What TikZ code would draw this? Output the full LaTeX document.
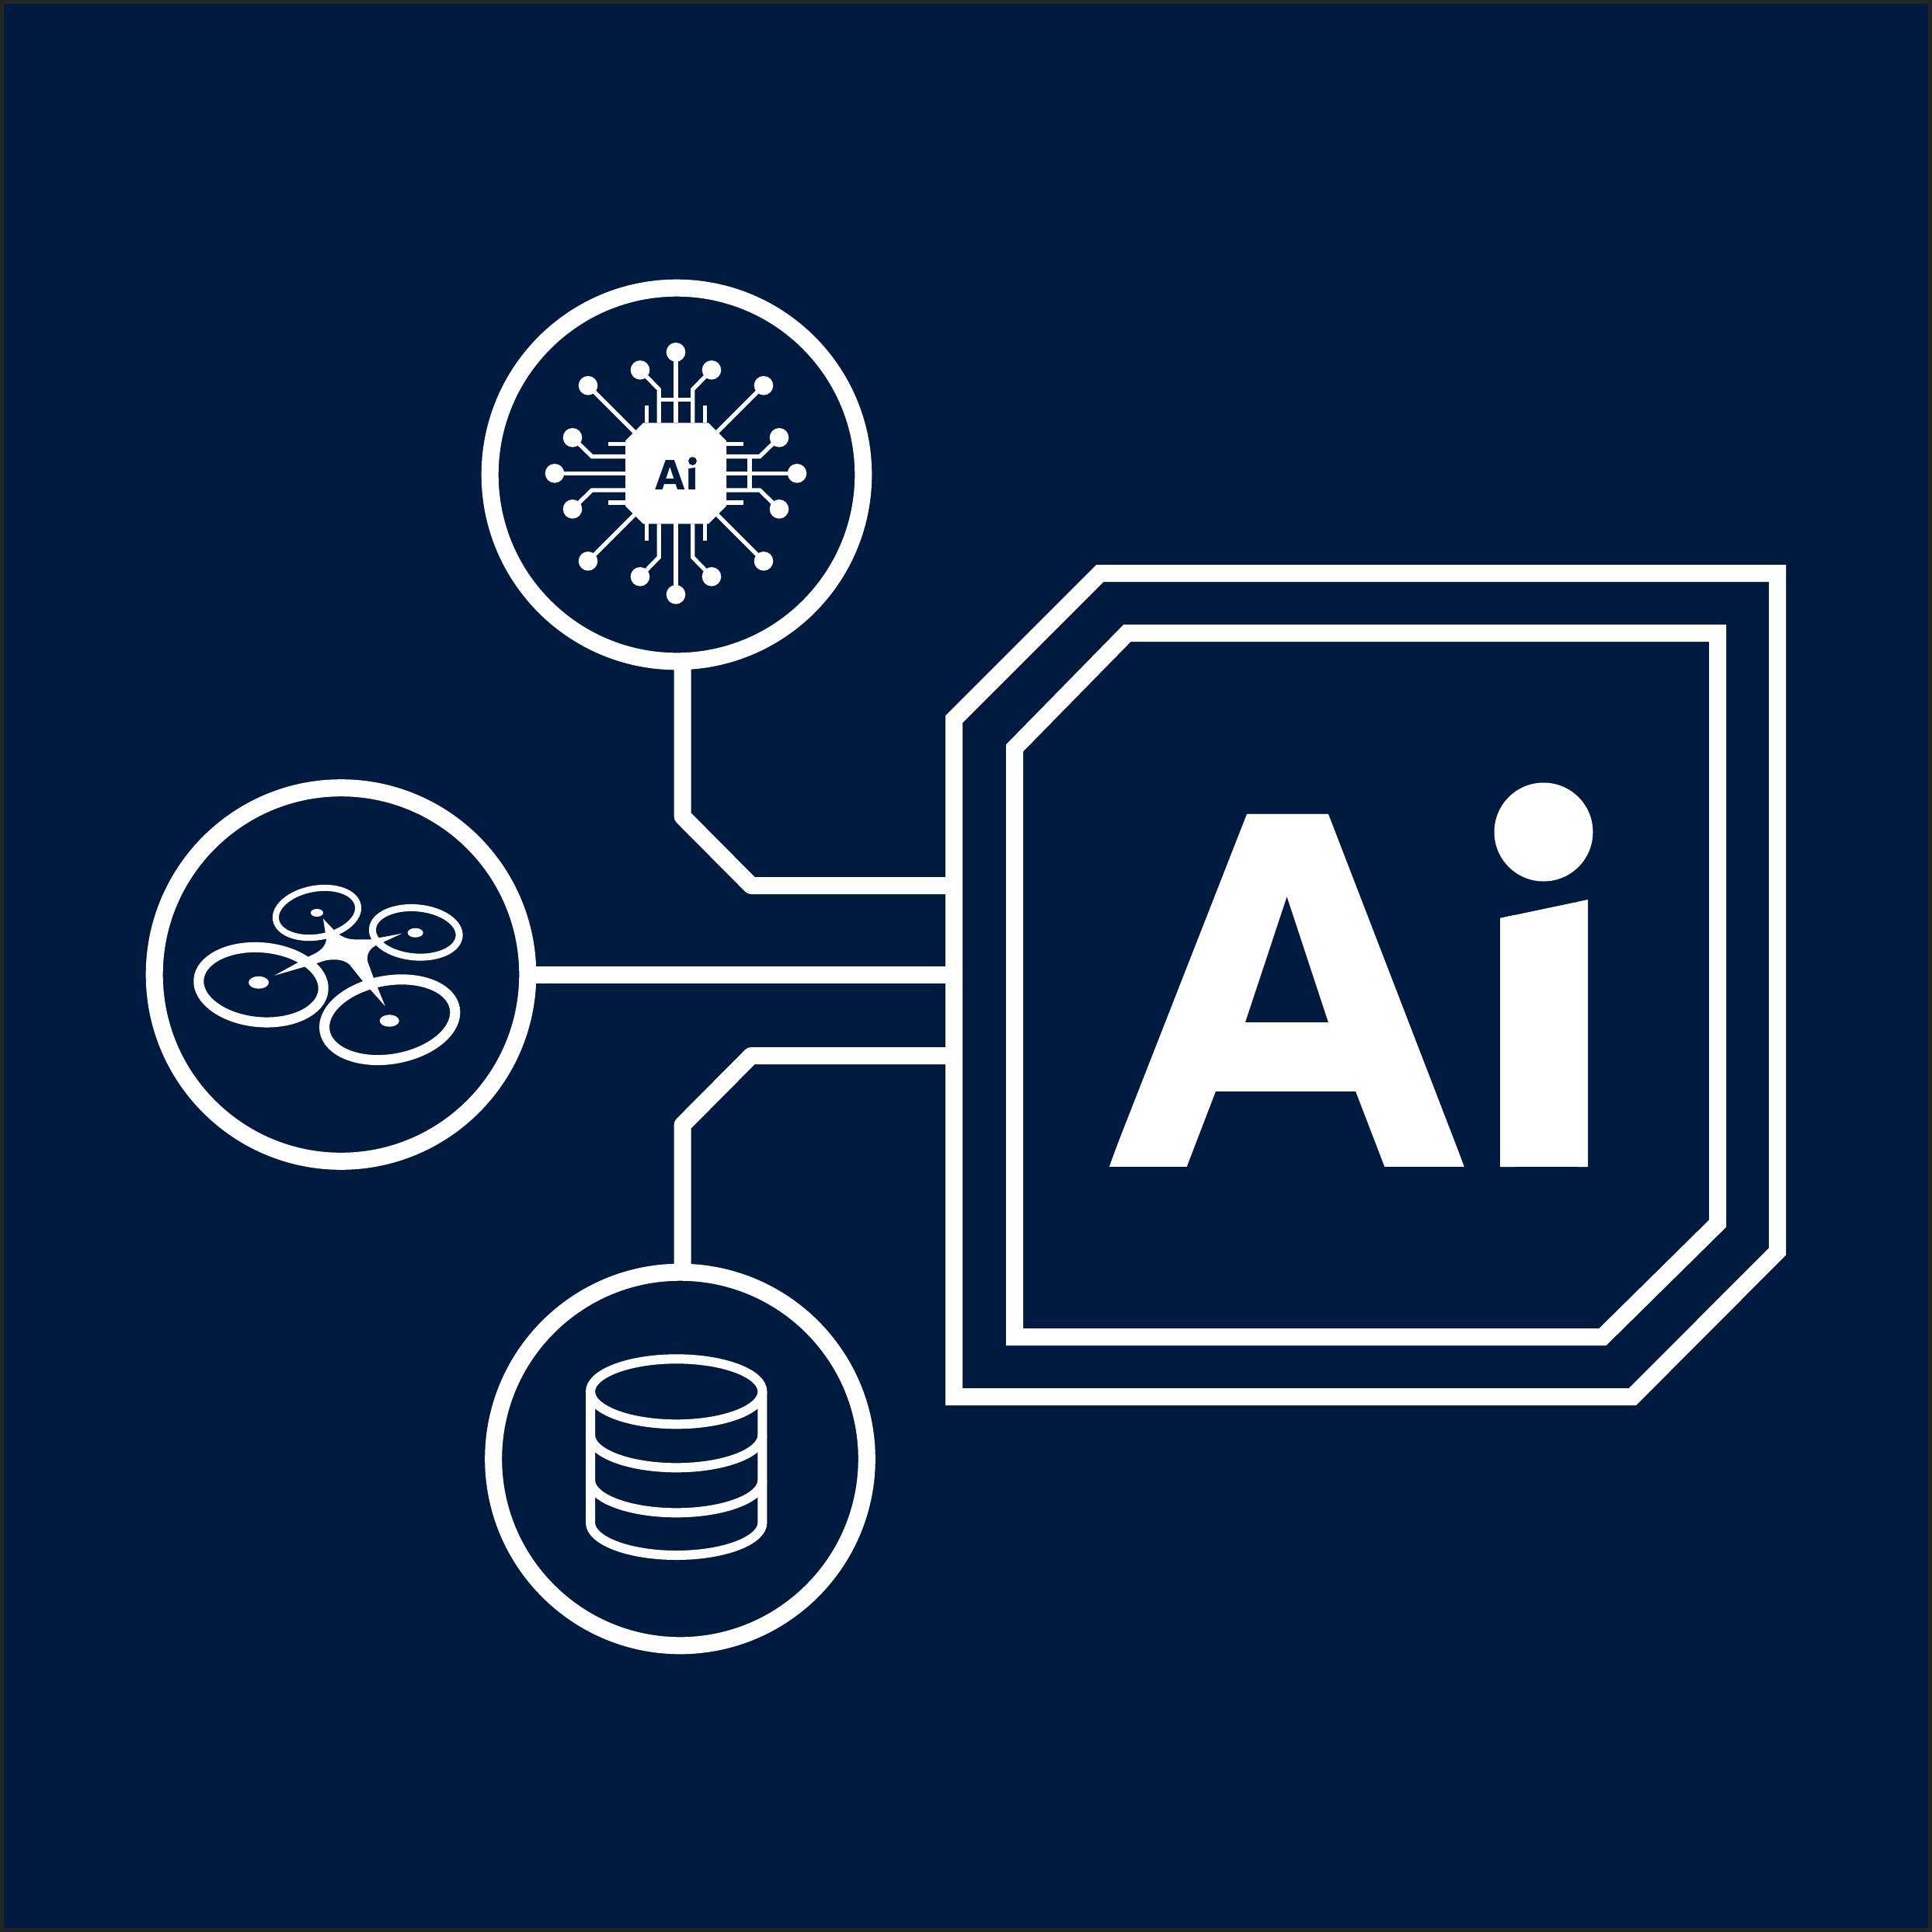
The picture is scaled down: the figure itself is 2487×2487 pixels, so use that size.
\documentclass[tikz,border=0pt]{standalone}
\usepackage{fontspec}
\usetikzlibrary{positioning}
\newfontfamily\markfont{DejaVu Sans}
\definecolor{deepnavy}{RGB}{0,26,64}
\definecolor{edgegrey}{RGB}{36,36,36}

\begin{document}
\begin{tikzpicture}[
		x=1pt, y=-1pt,
		ringline/.style={draw=white, line width=22pt, circle, inner sep=0pt, outer sep=0pt, minimum size=480.6pt}, % the three round frames
		busline/.style={draw=white, line width=22pt, line join=round},
		shellline/.style={draw=white, line width=22pt, line join=miter},
		traceline/.style={draw=white, line width=5.3pt},
		rotorline/.style={draw=white, line width=#1},
		storeline/.style={draw=white, line width=12pt},
		bigglyph/.style={text=white, inner sep=0pt, outer sep=0pt, font=\fontsize{623}{623}\selectfont},
		smallglyph/.style={text=deepnavy, inner sep=0pt, outer sep=0pt, font=\fontsize{52}{52}\selectfont}
		]
		\useasboundingbox (0,0) rectangle (2487,2487);
		\draw[edgegrey, line width=5pt, fill=deepnavy] (2.5,2.5) rectangle (2484.5,2484.5);

		% round frames
		\node[ringline] (neuralring) at (871,611) {};
		\node[ringline] (dronering) at (439,1254.5) {};
		\node[ringline] (storering) at (875.5,1878) {};

		% octagonal plates
		\coordinate (shellnw) at (1228,926);
		\coordinate (shelltop) at (1416,738);
		\coordinate (shellne) at (2288,738);
		\coordinate (shellse) at (2288,1611);
		\coordinate (shellbot) at (2101.5,1798);
		\coordinate (shellsw) at (1228,1798);
		\draw[shellline] (shellnw) -- (shelltop) -- (shellne) -- (shellse) -- (shellbot) -- (shellsw) -- cycle;
		\draw[shellline] (1306,963) -- (1451,815) -- (2211,815) -- (2211,1575) -- (2063,1721) -- (1306,1721) -- cycle;

		% buses
		\coordinate (neuralknee) at (878.6,1051);
		\coordinate (neuralbend) at (967,1140);
		\coordinate (storeknee) at (878.6,1448);
		\coordinate (storebend) at (967,1359);
		\draw[busline] ([xshift=7.6pt]neuralring.south) -- (neuralknee) -- (neuralbend) -- (neuralbend -| shellnw);
		\draw[busline] (dronering.east) -- (dronering.east -| shellnw);
		\draw[busline] ([xshift=3.1pt]storering.north) -- (storeknee) -- (storebend) -- (storebend -| shellnw);

		% big lettering, with a narrower apex, a lower bar, a round dot and a slanted stem top
		\node[bigglyph, anchor=base west] (bigmark) at (1425,1502) {\markfont\bfseries\scalebox{.96}[1]{Ai}};
		\fill[deepnavy] (1580,1040) -- (1608,1040) -- (1426.2,1504) -- (1415,1504) -- cycle;
		\fill[deepnavy] (1707,1040) -- (1735,1040) -- (1900,1504) -- (1886,1504) -- cycle;
		\fill[deepnavy] (1565,1405) -- (1745,1405) -- (1783,1504) -- (1527,1504) -- cycle;
		\fill[white] (1590,1316) rectangle (1722,1336);
		\fill[deepnavy] (1915,990) -- (2060,990) -- (2060,1154.6) -- (1915,1185.2) -- cycle;
		\fill[white] (1931,1181.8) -- (1950,1177.8) -- (1950,1502) -- (1931,1502) -- cycle;
		\fill[white] (2030,1161) -- (2044,1158) -- (2044,1502) -- (2030,1502) -- cycle;
		\fill[white] (1987,1071) circle (63.5);

		% processor icon
		\begin{scope}[shift={(870,609.3)}]
			\foreach \turn in {0,90,180,270} {
				\begin{scope}[rotate=\turn]
					\draw[traceline] (0,-65) -- (0,-156);
					\draw[traceline] (-21.7,-65) -- (-21.7,-108) -- (-46,-133);
					\draw[traceline] (21.7,-65) -- (21.7,-108) -- (46,-133);
					\draw[traceline] (-37.7,-65) -- (-37.7,-87);
					\draw[traceline] (37.7,-65) -- (37.7,-87);
					\draw[traceline] (-50,-50) -- (-113,-113);
					\fill[white] (0,-156) circle (12.3) (-46,-133) circle (12.3) (46,-133) circle (12.3) (-113,-113) circle (12.3);
				\end{scope}
			}
			\draw[traceline] (-21.7,-95) -- (21.7,-95);
			\draw[traceline] (95,-21.7) -- (95,21.7);
			\fill[white] (-42,-65) -- (42,-65) -- (65,-42) -- (65,42) -- (42,65) -- (-42,65) -- (-65,42) -- (-65,-42) -- cycle;
		\end{scope}
		\node[smallglyph, anchor=base west] (smallmark) at (843.8,630) {\markfont\bfseries\scalebox{.96}[1]{Ai}};
		\fill[white] (882,584) -- (902,584) -- (902,601) -- (882,603.5) -- cycle;
		\fill[deepnavy] (891.5,593.5) circle (5.4);

		% drone icon
		\draw[rotorline=13pt, rotate around={-5:(336,1267.7)}] (336,1267.7) ellipse [x radius=80.5, y radius=48];
		\draw[rotorline=13pt, rotate around={10:(501.7,1312.7)}] (501.7,1312.7) ellipse [x radius=85, y radius=50.5];
		\draw[rotorline=8pt, rotate around={10:(408,1175)}] (408,1175) ellipse [x radius=53.6, y radius=31.25];
		\draw[rotorline=9pt, rotate around={-5:(535.3,1200.3)}] (535.3,1200.3) ellipse [x radius=56, y radius=31.6];
		\fill[white] (333,1264.7) ellipse [x radius=13, y radius=8];
		\fill[white] (501.3,1314) ellipse [x radius=12.5, y radius=7.7];
		\fill[white] (408,1175) ellipse [x radius=8, y radius=5];
		\fill[white] (534.7,1200.7) ellipse [x radius=10, y radius=6];
		\fill[white] (416,1182.7) -- (430,1197.3) .. controls (438,1206) and (448,1209.3) .. (456.7,1209.3) -- (476.7,1209.3) -- (517.3,1201.7) -- (483.3,1217.3)
			.. controls (473,1223) and (472,1232) .. (473.3,1238) -- (480.7,1258.3) -- (495.7,1295) -- (467.3,1263.3) -- (450,1241.7)
			.. controls (442,1234) and (425,1233) .. (410,1239.3) -- (353.3,1255.7) -- (400,1230) .. controls (412,1225) and (420,1218) .. (420,1208) -- cycle;

		% storage icon
		\draw[storeline] (870.7,1791.3) ellipse [x radius=110.7, y radius=42];
		\draw[storeline] (760,1791.3) -- (760,1960) arc [start angle=180, end angle=0, x radius=110.7, y radius=42] -- (981.4,1791.3);
		\draw[storeline] (760,1847.3) arc [start angle=180, end angle=0, x radius=110.7, y radius=42];
		\draw[storeline] (760,1905.3) arc [start angle=180, end angle=0, x radius=110.7, y radius=42];
	\end{tikzpicture}
\end{document}
